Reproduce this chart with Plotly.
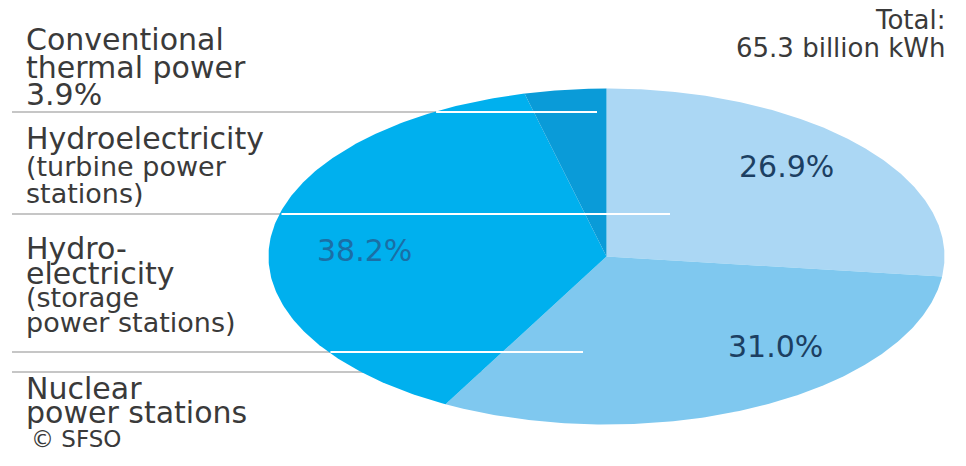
import numpy as np
import plotly.graph_objects as go

# ---------------- data ----------------
slice_names = ["Hydroelectricity (turbine power stations)",
               "Hydroelectricity (storage power stations)",
               "Nuclear power stations",
               "Conventional thermal power"]
slice_values = [26.9, 31.0, 38.2, 3.9]          # percent, clockwise from 12 o'clock
slice_colors = ["#abd7f4", "#7fc8ef", "#00b0ee", "#0a9bd8"]
label_colors = ["#1c3f62", "#1c3f62", "#1a6fa6", "#1c3f62"]
show_label = [True, True, True, False]

total_text = ["Total:", "65.3 billion kWh"]

legend_lines = [  # (text, size key)
    ("Conventional", "main"), ("thermal power", "main"), ("3.9%", "main"),
    ("Hydroelectricity", "main"), ("(turbine power", "sub"), ("stations)", "sub"),
    ("Hydro-", "main"), ("electricity", "main"), ("(storage", "sub"), ("power stations)", "sub"),
    ("Nuclear", "main"), ("power stations", "main"),
]
source_text = "© SFSO"

# ---------------- layout constants (positions / styles) ----------------
W, H = 966, 466
CX, CY, RX, RY = 606.5, 256.5, 338.0, 168.0
FONT = "DejaVu Sans"
SIZES = {"main": 30, "sub": 27}
TEXT_COLOR = "#3a3a3a"
legend_baselines = [49, 77, 104, 148, 175, 202, 258, 283, 306, 331, 398, 422]
legend_x = 24
# label placement inside slices (pixel centres of the value labels)
label_centers = [(786, 166), (775, 346), (364, 250), (0, 0)]
separators = [  # y, x_end, white inside pie
    (112, 597, True), (214, 670, True), (352, 583, True), (372, 600, False)]


def baseline_to_mid(baseline, size):
    # DejaVu ascent .928 / descent .236 -> middle of text box above baseline
    return baseline - 0.33 * size


fig = go.Figure()

# pie slices drawn as filled polygons on pixel-scaled axes (elliptical pie)
start = 0.0
total = sum(slice_values)
annotations = []
for name, val, col, lcol, show, (lx, ly) in zip(slice_names, slice_values, slice_colors,
                                                 label_colors, show_label, label_centers):
    a0 = start
    a1 = start + val / total * 360.0
    th = np.radians(np.linspace(a0, a1, 200))
    xs = np.concatenate([[CX], CX + RX * np.sin(th), [CX]])
    ys = np.concatenate([[CY], CY - RY * np.cos(th), [CY]])
    fig.add_trace(go.Scatter(x=xs, y=ys, fill="toself", fillcolor=col, mode="lines",
                             line=dict(width=0, color=col), name=name,
                             hoverinfo="name", showlegend=False))
    if show:
        annotations.append(dict(x=lx, y=ly,
                                text=f"{val:.1f}%", showarrow=False,
                                font=dict(family=FONT, size=30, color=lcol),
                                xanchor="center", yanchor="middle"))
    start = a1

# separator lines
shapes = []
for y, xe, white in separators:
    shapes.append(dict(type="line", x0=12, x1=xe, y0=y, y1=y, layer="below",
                       line=dict(color="#b3b3b3", width=1.5)))
    if white:
        dy = (y - CY) / RY
        xin = CX - RX * np.sqrt(max(0.0, 1 - dy * dy))
        shapes.append(dict(type="line", x0=xin + 2, x1=xe, y0=y, y1=y, layer="above",
                           line=dict(color="#ffffff", width=2)))

# legend text on the left
for (txt, sk), bl in zip(legend_lines, legend_baselines):
    s = SIZES[sk]
    annotations.append(dict(x=legend_x, y=baseline_to_mid(bl, s), text=txt, showarrow=False,
                            xanchor="left", yanchor="middle",
                            font=dict(family=FONT, size=s, color=TEXT_COLOR)))
annotations.append(dict(x=legend_x + 5, y=baseline_to_mid(447, 23), text=source_text,
                        showarrow=False, xanchor="left", yanchor="middle",
                        font=dict(family=FONT, size=23, color=TEXT_COLOR)))

# total text (right aligned)
for txt, bl in zip(total_text, [29, 57]):
    annotations.append(dict(x=947, y=baseline_to_mid(bl, 26), text=txt, showarrow=False,
                            xanchor="right", yanchor="middle",
                            font=dict(family=FONT, size=26, color=TEXT_COLOR)))

fig.update_layout(
    width=W, height=H, margin=dict(l=0, r=0, t=0, b=0),
    paper_bgcolor="white", plot_bgcolor="white",
    xaxis=dict(range=[0, W], visible=False, fixedrange=True),
    yaxis=dict(range=[H, 0], visible=False, fixedrange=True),
    shapes=shapes, annotations=annotations, showlegend=False,
)

fig.write_html("out.html", config={"displayModeBar": False},
               post_script="document.body.style.margin='0px';document.body.style.overflow='hidden';")
